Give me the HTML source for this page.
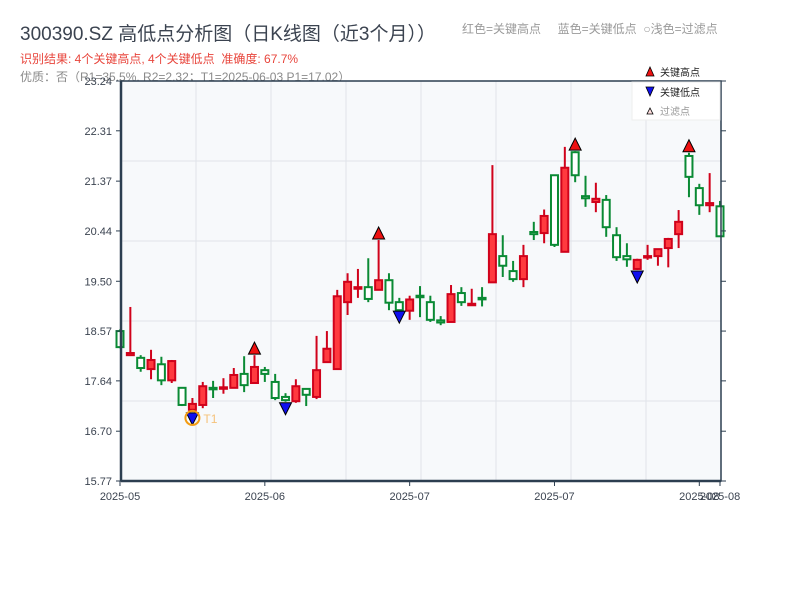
<!DOCTYPE html>
<html><head><meta charset="utf-8">
<style>
body{margin:0;background:#fff;width:800px;height:600px;overflow:hidden;font-family:"Liberation Sans","Noto Sans CJK SC",sans-serif;}
svg{position:absolute;left:0;top:0;}
text{font-family:"Liberation Sans","Noto Sans CJK SC",sans-serif;}
</style></head>
<body>
<svg id="chart" width="800" height="600">
<text x="20" y="40" font-size="19" fill="#3b4350">300390.SZ 高低点分析图（日K线图（近3个月））</text>
<text x="462" y="33" font-size="12" fill="#9a9a9a">红色=关键高点 &#160;&#160;&#160;&#160;蓝色=关键低点 &#160;○浅色=过滤点</text>
<text x="20" y="63" font-size="12" fill="#e8453c">识别结果: 4个关键高点, 4个关键低点 &#160;准确度: 67.7%</text>
<text x="20" y="81" font-size="12" fill="#8a8a8a">优质：否（R1=35.5%, R2=2.32；T1=2025-06-03 P1=17.02）</text>
<g id="plot"></g>
</svg>
<script>
const opens  = [18.57,18.12,18.07,17.86,17.95,17.65,17.51,17.10,17.19,17.51,17.51,17.51,17.77,17.60,17.84,17.62,17.34,17.26,17.49,17.34,17.99,17.86,19.11,19.36,19.39,19.34,19.52,19.11,18.95,19.23,19.11,18.77,18.74,19.28,19.06,19.19,19.48,19.97,19.69,19.54,20.42,20.40,21.48,20.05,21.91,21.09,20.98,21.02,20.36,19.97,19.73,19.95,19.97,20.12,20.38,21.84,21.24,20.92,20.90];
const closes = [18.27,18.16,17.88,18.03,17.65,18.01,17.19,17.21,17.54,17.50,17.52,17.75,17.56,17.90,17.77,17.32,17.28,17.54,17.38,17.84,18.24,19.22,19.49,19.39,19.17,19.52,19.10,18.96,19.16,19.21,18.78,18.73,19.26,19.11,19.08,19.17,20.38,19.79,19.54,19.97,20.38,20.72,20.18,21.62,21.48,21.05,21.04,20.51,19.95,19.91,19.90,19.97,20.10,20.29,20.61,21.45,20.92,20.96,20.34];
const highs  = [18.60,19.02,18.12,18.22,18.09,18.03,17.51,17.32,17.62,17.64,17.69,17.88,18.10,18.12,17.90,17.77,17.41,17.67,17.49,18.48,18.57,19.34,19.65,19.73,19.93,20.27,19.65,19.19,19.23,19.41,19.23,18.85,19.43,19.39,19.36,19.39,21.67,20.36,19.88,20.18,20.61,20.84,21.49,22.01,21.93,21.47,21.34,21.11,20.51,20.21,19.92,20.18,20.10,20.31,20.83,21.90,21.32,21.52,21.00];
const lows   = [18.25,18.12,17.81,17.67,17.56,17.60,17.17,17.06,17.13,17.32,17.40,17.50,17.43,17.60,17.62,17.28,17.25,17.23,17.17,17.30,17.99,17.86,18.87,19.19,19.11,19.34,18.96,18.96,18.78,18.83,18.74,18.68,18.74,19.04,19.06,19.03,19.47,19.58,19.49,19.39,20.27,20.21,20.14,20.05,21.35,20.89,20.79,20.33,19.88,19.77,19.71,19.90,19.79,19.76,20.12,21.07,20.74,20.79,20.34];
const keyHighIdx = [13,25,44,55];
const keyLowIdx  = [7,16,27,50];
const t1Idx = 7;
const yTickLabels = ["15.77","16.70","17.64","18.57","19.50","20.44","21.37","22.31","23.24"];
const xTickIdx = [0,14,28,42,56,58];
const xTickLabels = ["2025-05","2025-06","2025-07","2025-07","2025-08","2025-08"];

const NS="http://www.w3.org/2000/svg";
const L=121,R=721,T=81,B=481, yMin=15.77, yMax=23.24;
const n=opens.length;
function xs(i){return 120+i*(600/(n-1));}
function ys(v){return B-(v-yMin)/(yMax-yMin)*(B-T);}
const g=document.getElementById('plot');
function mk(tag,attrs,parent){const e=document.createElementNS(NS,tag);for(const k in attrs)e.setAttribute(k,attrs[k]);(parent||g).appendChild(e);return e;}

let e=mk('rect',{x:L,y:T,width:R-L,height:B-T,fill:'#f7f9fb'});


for(let k=1;k<8;k++){e=mk('line',{x1:L+k*75,x2:L+k*75,y1:T,y2:B,stroke:'#e1e4ea','stroke-width':1});

}
for(let k=1;k<5;k++){e=mk('line',{x1:L,x2:R,y1:T+k*80,y2:T+k*80,stroke:'#e1e4ea','stroke-width':1});

}

for(let i=0;i<n;i++){
  const up=closes[i]>=opens[i];
  const col=up?'#d0021b':'#0a8a34';
  const x=xs(i);
  const cg=mk('g',{});
  
  
  mk('line',{x1:x,x2:x,y1:ys(highs[i]),y2:ys(lows[i]),stroke:col,'stroke-width':2},cg);
  const top=ys(Math.max(opens[i],closes[i])), bot=ys(Math.min(opens[i],closes[i]));
  mk('rect',{x:x-3.5,y:top,width:7,height:Math.max(bot-top,1.5),fill:up?'#ff3a3f':'#ffffff',stroke:col,'stroke-width':2},cg);
}
keyHighIdx.forEach(i=>{const x=xs(i),y=ys(highs[i])-1;
  e=mk('polygon',{points:`${x-6},${y} ${x+6},${y} ${x},${y-12}`,fill:'#ee1111',stroke:'#000','stroke-width':1});
  
  });
keyLowIdx.forEach(i=>{const x=xs(i),y=ys(lows[i])+1;
  e=mk('polygon',{points:`${x-6},${y} ${x+6},${y} ${x},${y+12}`,fill:'#1010ee',stroke:'#000','stroke-width':1});
  
  });
{const x=xs(t1Idx),y=ys(lows[t1Idx])+6;
 e=mk('circle',{cx:x,cy:y,r:7,fill:'none',stroke:'#f39c12','stroke-width':2});
 
 
 e=mk('text',{x:x+11,y:y+5,'font-size':12,fill:'#f5c27a'});e.textContent='T1';
 
 }

e=mk('rect',{x:L,y:T,width:R-L,height:B-T,fill:'none',stroke:'#2c3e50','stroke-width':1.5});


mk('line',{x1:L,x2:L,y1:T,y2:B,stroke:'#2c3e50','stroke-width':2.5});
mk('line',{x1:L,x2:R,y1:B,y2:B,stroke:'#2c3e50','stroke-width':2.5});
yTickLabels.forEach(lbl=>{const y=ys(parseFloat(lbl));
  mk('line',{x1:L-5,x2:L,y1:y,y2:y,stroke:'#2c3e50','stroke-width':1});
  mk('line',{x1:R,x2:R+5,y1:y,y2:y,stroke:'#2c3e50','stroke-width':1});
  e=mk('text',{x:L-9,y:y+4,'font-size':11,fill:'#3b4350','text-anchor':'end'});e.textContent=lbl;
  
  });
xTickIdx.forEach((i,k)=>{const x=xs(i);
  mk('line',{x1:x,x2:x,y1:B,y2:B+5,stroke:'#2c3e50','stroke-width':1});
  e=mk('text',{x:x,y:B+19,'font-size':11,fill:'#3b4350','text-anchor':'middle'});e.textContent=xTickLabels[k];
  
  });

// legend
const lg=mk('g',{});


mk('rect',{x:632,y:82,width:88,height:38,fill:'#ffffff',stroke:'#eeeeee','stroke-width':1},lg);
mk('polygon',{points:'646,76 654,76 650,67',fill:'#ee1111',stroke:'#000','stroke-width':0.8},lg);
e=mk('text',{x:660,y:76,'font-size':10,fill:'#222'},lg);e.textContent='关键高点';
mk('polygon',{points:'646,87 654,87 650,96',fill:'#1010ee',stroke:'#000','stroke-width':0.8},lg);
e=mk('text',{x:660,y:96,'font-size':10,fill:'#222'},lg);e.textContent='关键低点';
mk('polygon',{points:'647,114 653,114 650,108',fill:'#ffdede',stroke:'#000','stroke-width':0.8},lg);
e=mk('text',{x:660,y:115,'font-size':10,fill:'#999'},lg);e.textContent='过滤点';
</script>
</body></html>
